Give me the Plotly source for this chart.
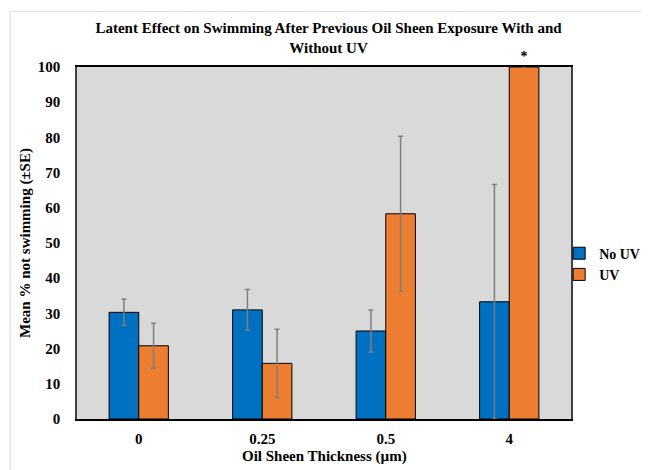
import plotly.graph_objects as go

categories = ["0", "0.25", "0.5", "4"]
no_uv = [30.3, 31.0, 25.0, 33.3]
no_uv_se = [3.7, 5.8, 6.0, 33.3]
uv = [20.8, 15.8, 58.3, 100.0]
uv_se = [6.4, 9.7, 22.0, 0.0]
uv_marks = ["", "", "", "*"]
y_ticks = list(range(0, 101, 10))

FONT = "Liberation Serif, Times New Roman, serif"
err_style = dict(type="data", visible=True, color="#7f7f7f", thickness=1.5, width=2.5)

fig = go.Figure()
fig.add_trace(go.Bar(
    name="No UV", x=categories, y=no_uv,
    error_y=dict(array=no_uv_se, **err_style),
    marker=dict(color="#0070C0", line=dict(color="#000000", width=1)),
))
fig.add_trace(go.Bar(
    name="UV", x=categories, y=uv,
    error_y=dict(array=uv_se, **err_style),
    marker=dict(color="#ED7D31", line=dict(color="#000000", width=1)),
    text=uv_marks, textposition="outside", cliponaxis=False,
    textfont=dict(family=FONT, size=14, color="#000000", weight="bold"),
))

border = dict(color="#d9d9d9", width=1)
fig.update_layout(
    width=641, height=462,
    margin=dict(l=69, r=78, t=59, b=51, autoexpand=False),
    paper_bgcolor="white", plot_bgcolor="#d9d9d9",
    barmode="group", bargap=0.52, bargroupgap=0,
    font=dict(family=FONT, size=15, color="#000000", weight="bold"),
    title=dict(
        text="Latent Effect on Swimming After Previous Oil Sheen Exposure With and<br>Without UV",
        x=0.5, xref="container", xanchor="center", y=0.945, yanchor="top",
        font=dict(family=FONT, size=15, color="#000000", weight="bold"),
    ),
    legend=dict(
        x=0.976, xanchor="left", y=0.44, yanchor="middle",
        font=dict(family=FONT, size=14, color="#000000", weight="bold"),
        itemwidth=30, tracegroupgap=4, bgcolor="rgba(0,0,0,0)",
    ),
    showlegend=True,
    shapes=[
        dict(type="line", xref="paper", yref="paper", x0=-0.1355, x1=1.3, y0=1.158, y1=1.158,
             line=border, layer="below"),
        dict(type="line", xref="paper", yref="paper", x0=-0.1355, x1=-0.1355, y0=-0.3, y1=1.158,
             line=border, layer="below"),
    ],
    annotations=[dict(
        text="Oil Sheen Thickness (µm)", xref="paper", yref="paper", x=0.5, y=0,
        xanchor="center", yanchor="top", yshift=-27, showarrow=False,
        font=dict(family=FONT, size=15, color="#000000", weight="bold"),
    )],
)
fig.update_xaxes(
    type="category", showgrid=False, automargin=False,
    showline=True, linecolor="#000000", linewidth=1.5, mirror=True,
    ticks="", ticklabelstandoff=5,
    tickfont=dict(family=FONT, size=15, color="#000000", weight="bold"),
)
fig.update_yaxes(
    range=[0, 100], tickvals=y_ticks, showgrid=False, zeroline=False, automargin=False,
    showline=True, linecolor="#404040", linewidth=1.5, mirror=True,
    ticks="", ticklabelstandoff=12,
    tickfont=dict(family=FONT, size=15, color="#000000", weight="bold"),
    title=dict(text="Mean % not swimming (±SE)", standoff=4,
               font=dict(family=FONT, size=15, color="#000000", weight="bold")),
)

fig.write_html("out.html")
